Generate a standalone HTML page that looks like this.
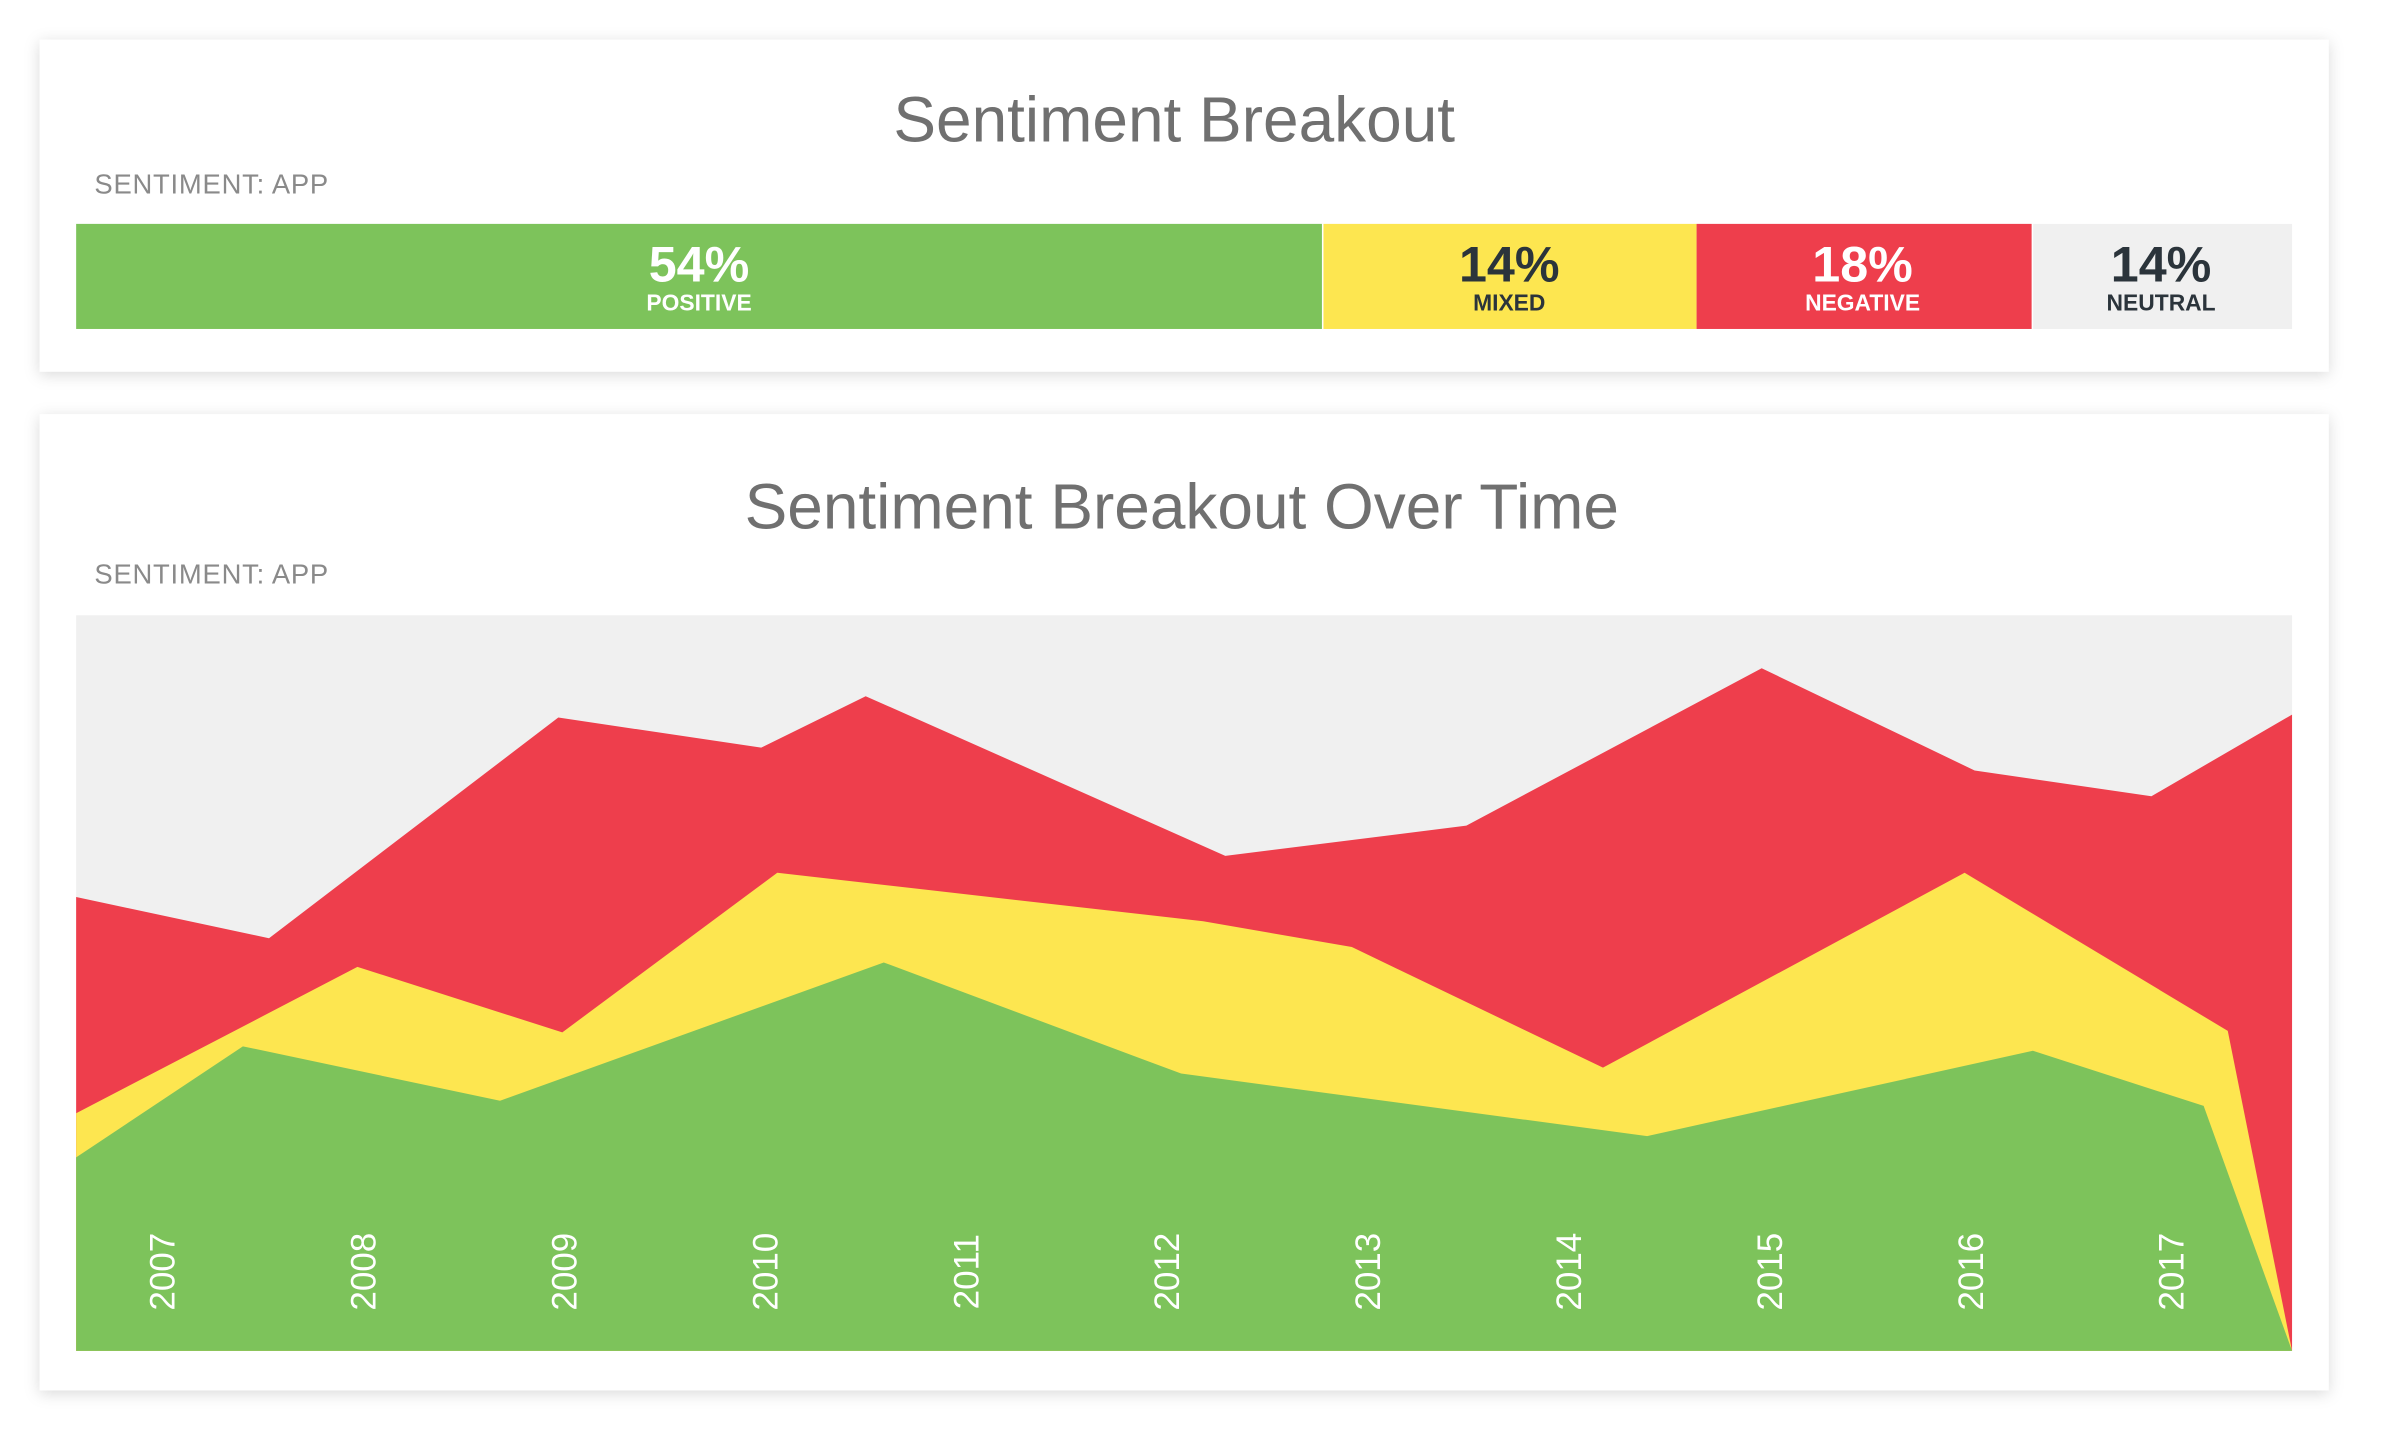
<!DOCTYPE html>
<html><head><meta charset="utf-8"><style>
html,body{margin:0;padding:0;background:#fff;width:2388px;height:1452px;overflow:hidden}
svg{display:block}
.t{font-family:"Liberation Sans",sans-serif;font-weight:300;fill:#707070}
.lab{font-family:"Liberation Sans",sans-serif;fill:#8a8a8a;letter-spacing:0.5px}
.pct{font-family:"Liberation Sans Narrow","Liberation Sans",sans-serif;font-weight:bold}
.yr{font-family:"Liberation Sans",sans-serif;fill:#fff}
</style></head><body>
<svg id="page" width="2388" height="1452" viewBox="0 0 1568 953.4">
<defs><filter id="sh" x="-5%" y="-10%" width="110%" height="125%"><feDropShadow dx="0" dy="2" stdDeviation="5" flood-color="#000" flood-opacity="0.15"/></filter></defs>
<g>
<rect x="26" y="26" width="1503" height="218" fill="#fff" filter="url(#sh)"/>
<text class="t" x="771" y="93" text-anchor="middle" font-size="42">Sentiment Breakout</text>
<text class="lab" x="62" y="127" font-size="18">SENTIMENT: APP</text>
<g>
<rect x="50" y="147" width="818" height="69" fill="#7dc35b"/>
<rect x="869" y="147" width="245" height="69" fill="#fde650"/>
<rect x="1114" y="147" width="220" height="69" fill="#ee3e4c"/>
<rect x="1335" y="147" width="170" height="69" fill="#f0f0f0"/>
<text class="pct" x="459" y="185" text-anchor="middle" font-size="33" fill="#fff">54%</text>
<text class="pct" x="459" y="204" text-anchor="middle" font-size="15" fill="#fff">POSITIVE</text>
<text class="pct" x="991" y="185" text-anchor="middle" font-size="33" fill="#2b343b">14%</text>
<text class="pct" x="991" y="204" text-anchor="middle" font-size="15" fill="#2b343b">MIXED</text>
<text class="pct" x="1223" y="185" text-anchor="middle" font-size="33" fill="#fff">18%</text>
<text class="pct" x="1223" y="204" text-anchor="middle" font-size="15" fill="#fff">NEGATIVE</text>
<text class="pct" x="1419" y="185" text-anchor="middle" font-size="33" fill="#2b343b">14%</text>
<text class="pct" x="1419" y="204" text-anchor="middle" font-size="15" fill="#2b343b">NEUTRAL</text>
</g></g>
<g>
<rect x="26" y="272" width="1503" height="641" fill="#fff" filter="url(#sh)"/>
<text class="t" x="776" y="347" text-anchor="middle" font-size="42">Sentiment Breakout Over Time</text>
<text class="lab" x="62" y="383" font-size="18">SENTIMENT: APP</text>
<g id="chart"></g>
</g>
</svg>
<script>
const years=[2007,2008,2009,2010,2011,2012,2013,2014,2015,2016,2017];
const xMin=2006.57, xMax=2017.6;
const negX=[2006.57,2007.53,2008.97,2009.98,2010.5,2012.29,2013.49,2014.96,2016.02,2016.9,2017.6];
const negTop=[61.7,56.1,86.1,82.0,89.0,67.3,71.4,92.8,78.9,75.4,86.5];
const mixX=[2006.57,2007.97,2008.99,2010.06,2012.18,2012.92,2014.17,2015.97,2017.28,2017.6];
const mixTop=[32.3,52.2,43.3,65.0,58.4,54.9,38.5,65.0,43.5,0];
const posX=[2006.57,2007.40,2008.68,2010.59,2012.07,2014.39,2016.31,2017.16,2017.6];
const posTop=[26.3,41.4,34.0,52.8,37.7,29.2,40.8,33.3,0];
const L=50,R=1505,T=404,B=887;
const sx=v=>L+(v-xMin)/(xMax-xMin)*(R-L);
const sy=v=>B-v/100*(B-T);
const NS='http://www.w3.org/2000/svg';
const g=document.getElementById('chart');
const bg=document.createElementNS(NS,'rect');
bg.setAttribute('x',L);bg.setAttribute('y',sy(100));bg.setAttribute('width',R-L);bg.setAttribute('height',sy(0)-sy(100));bg.setAttribute('fill','#f0f0f0');


g.appendChild(bg);
function area(xs,ys,color){
  let d='M'+sx(xs[0])+','+sy(0);
  xs.forEach((x,i)=>{d+=' L'+sx(x)+','+sy(ys[i]);});
  d+=' L'+sx(xs[xs.length-1])+','+sy(0)+' Z';
  const p=document.createElementNS(NS,'path');
  p.setAttribute('d',d);p.setAttribute('fill',color);
  g.appendChild(p);return p;
}
const a1=area(negX,negTop,'#ee3e4c');


const a2=area(mixX,mixTop,'#fde650');


const a3=area(posX,posTop,'#7dc35b');


years.forEach(y=>{
  const t=document.createElementNS(NS,'text');
  const x=sx(y)+8, yy=835;
  t.setAttribute('x',x);t.setAttribute('y',yy);
  t.setAttribute('transform','rotate(-90 '+x+' '+yy+')');
  t.setAttribute('text-anchor','middle');t.setAttribute('font-size','23');
  t.setAttribute('class','yr');t.textContent=y;
  
  
  g.appendChild(t);
});
</script>
</body></html>
